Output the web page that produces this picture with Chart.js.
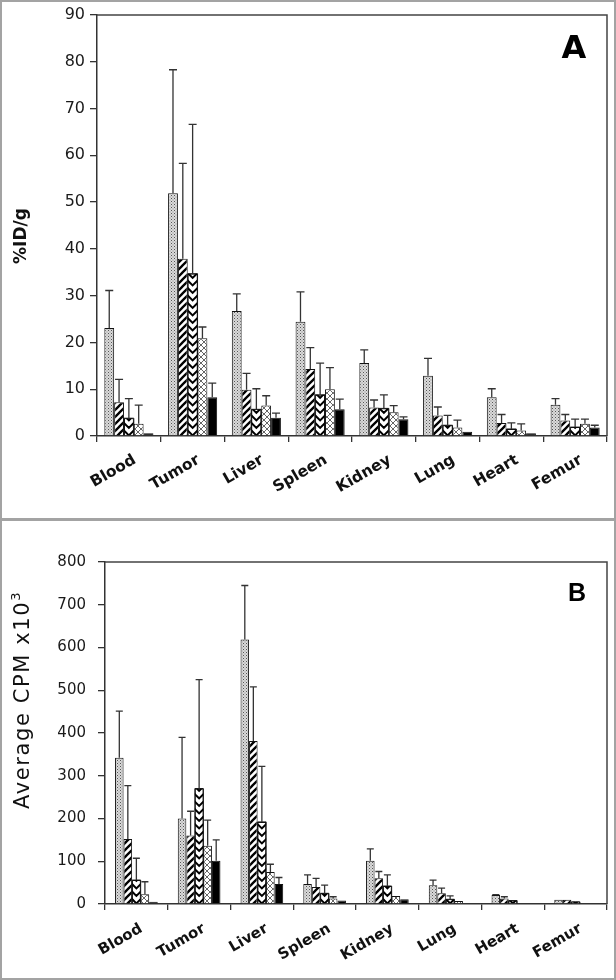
<!DOCTYPE html>
<html><head><meta charset="utf-8">
<script src="https://cdn.jsdelivr.net/npm/chart.js@4.4.0/dist/chart.umd.min.js"></script>
<style>
html,body{margin:0;padding:0;background:#fff;}
#wrap{position:relative;width:616px;height:980px;overflow:hidden;background:#fff;}
#ca{position:absolute;left:0;top:0;}
#cb{position:absolute;left:0;top:520px;}
.frame{position:absolute;left:0;top:0;width:616px;height:980px;box-sizing:border-box;border:2px solid #a3a3a3;pointer-events:none;}
.sep{position:absolute;left:0;top:518px;width:616px;height:3px;background:#a3a3a3;pointer-events:none;}
</style></head>
<body>
<div id="wrap">
<canvas id="ca" width="616" height="520"></canvas>
<canvas id="cb" width="616" height="460"></canvas>
<div class="frame"></div><div class="sep"></div>
</div>
<script>
// ---------- data ----------
const categories = ['Blood','Tumor','Liver','Spleen','Kidney','Lung','Heart','Femur'];

const yTicksA = [0,10,20,30,40,50,60,70,80,90];
const yTicksB = [0,100,200,300,400,500,600,700,800];

// Panel A (%ID/g) means
const a1 = [23.1, 51.9, 26.7, 24.4, 15.6, 12.9, 8.3, 6.7];
const a2 = [7.2, 37.9, 9.9, 14.3, 6.1, 4.4, 2.8, 3.3];
const a3 = [3.8, 34.7, 5.7, 8.8, 5.9, 2.3, 1.5, 1.9];
const a4 = [2.6, 20.9, 6.5, 10.0, 5.1, 1.8, 1.2, 2.6];
const a5 = [0.6, 8.3, 3.9, 5.7, 3.6, 0.9, 0.6, 1.8];
// Panel A error bar tops (mean + SD)
const aErr1 = [31.1, 78.3, 30.4, 30.8, 18.4, 16.6, 10.1, 8.0];
const aErr2 = [12.1, 58.3, 13.4, 18.9, 7.7, 6.2, 4.6, 4.6];
const aErr3 = [8.0, 66.6, 10.1, 15.6, 8.8, 4.4, 2.8, 3.6];
const aErr4 = [6.6, 23.3, 8.6, 14.6, 6.5, 3.4, 2.6, 3.6];
const aErr5 = [null, 11.3, 4.9, 7.9, 4.1, null, null, 2.3];

// Panel B (Average CPM x10^3) means
const b1 = [342, 200, 619, 47, 101, 44, 21, 10];
const b2 = [152, 160, 381, 40, 60, 25, 13, 10];
const b3 = [56, 270, 192, 25, 42, 11, 8, 5];
const b4 = [23, 136, 75, 13, 19, 7, 2, 2];
const b5 = [5, 101, 47, 8, 11, 2, 2, 2];
// Panel B error bar tops
const bErr1 = [451, 390, 745, 68, 129, 56, 22, null];
const bErr2 = [277, 217, 508, 60, 76, 37, 17, null];
const bErr3 = [107, 525, 322, 44, 68, 19, null, null];
const bErr4 = [52, 196, 93, 17, null, null, null, null];
const bErr5 = [null, 150, 62, null, null, null, null, null];

// ---------- patterns ----------
function tile(w, h, fn){ const c=document.createElement('canvas'); c.width=w; c.height=h; const g=c.getContext('2d'); fn(g,w,h); return g.createPattern(c,'repeat'); }
const dotFill = tile(3,3,(g)=>{ g.fillStyle='#dadada'; g.fillRect(0,0,3,3); g.fillStyle='#555'; g.fillRect(0,0,1,1); g.fillStyle='#888'; g.fillRect(1.5,1.5,1,1); });
const hatchFill = tile(7,7,(g,s)=>{ g.fillStyle='#fff'; g.fillRect(0,0,s,s); g.strokeStyle='#000'; g.lineWidth=2.3; g.beginPath(); for(const o of [-s,0,s]){ g.moveTo(o-1,s+1); g.lineTo(o+s+1,-1);} g.stroke(); });
const crossFill = tile(6,6,(g,s)=>{ g.fillStyle='#fff'; g.fillRect(0,0,s,s); g.strokeStyle='#555'; g.lineWidth=0.9; g.beginPath(); for(const o of [-s,0,s]){ g.moveTo(o-1,s+1); g.lineTo(o+s+1,-1); g.moveTo(o-1,-1); g.lineTo(o+s+1,s+1);} g.stroke(); });
const fills = [dotFill, hatchFill, '#ffffff', crossFill, '#000000'];

// ---------- plugins ----------
const chevronPlugin = {
  id:'chevron',
  afterDatasetDraw(chart, args){
    if(args.index !== 2) return;
    const ctx = chart.ctx;
    args.meta.data.forEach(bar=>{
      const {x,y,base,width} = bar.getProps(['x','y','base','width'], true);
      if(base - y < 0.5) return;
      const l = x - width/2, r = x + width/2, half = width/2;
      ctx.save();
      ctx.beginPath(); ctx.rect(l, y, width, base - y); ctx.clip();
      ctx.strokeStyle = '#000'; ctx.lineWidth = 2; ctx.lineJoin='miter';
      const p = 7.5;
      ctx.beginPath();
      for(let yy = base + p; yy > y - p - half; yy -= p){
        ctx.moveTo(l-1, yy - half - 1); ctx.lineTo(x, yy); ctx.lineTo(r+1, yy - half - 1);
      }
      ctx.stroke();
      ctx.restore();
      ctx.save();
      ctx.strokeStyle='#111'; ctx.lineWidth=1;
      ctx.beginPath(); ctx.moveTo(l, base); ctx.lineTo(l, y); ctx.lineTo(r, y); ctx.lineTo(r, base); ctx.stroke();
      ctx.restore();
    });
  }
};

const errorBarPlugin = {
  id:'errbars',
  afterDatasetsDraw(chart, args, opts){
    const ctx = chart.ctx, ys = chart.scales.y;
    const cap = opts.cap || 8;
    ctx.save();
    ctx.strokeStyle = '#333'; ctx.lineWidth = 1.3;
    chart.data.datasets.forEach((ds, i)=>{
      const meta = chart.getDatasetMeta(i);
      ds.errUpper.forEach((u, j)=>{
        if(u === null || u === undefined) return;
        const bar = meta.data[j];
        const {x, y} = bar.getProps(['x','y'], true);
        const yt = ys.getPixelForValue(u);
        ctx.beginPath();
        ctx.moveTo(x, y); ctx.lineTo(x, yt);
        ctx.moveTo(x - cap/2, yt); ctx.lineTo(x + cap/2, yt);
        ctx.stroke();
      });
    });
    ctx.restore();
  }
};

const framePlugin = {
  id:'frame',
  afterDraw(chart){
    const {left, right, top, bottom} = chart.chartArea;
    const ctx = chart.ctx;
    ctx.save(); ctx.strokeStyle = '#444'; ctx.lineWidth = 1.5;
    ctx.beginPath(); ctx.moveTo(left, top); ctx.lineTo(right, top); ctx.lineTo(right, bottom); ctx.stroke();
    ctx.restore();
  }
};

const labelPlugin = {
  id:'labels',
  afterDraw(chart, args, o){
    const ctx = chart.ctx;
    ctx.save();
    ctx.fillStyle = '#000'; ctx.font = o.letterFont; ctx.textAlign='center'; ctx.textBaseline='middle';
    ctx.fillText(o.letter, o.lx, o.ly);
    ctx.translate(o.tx, o.ty); ctx.rotate(-Math.PI/2);
    ctx.textBaseline='middle'; ctx.textAlign='left';
    if(o.spacing) ctx.letterSpacing = o.spacing;
    let total = 0;
    o.parts.forEach(p=>{ ctx.font = p.font; total += ctx.measureText(p.t).width; });
    let cx = -total/2;
    o.parts.forEach(p=>{ ctx.font = p.font; ctx.fillStyle='#111'; ctx.fillText(p.t, cx, p.dy || 0); cx += ctx.measureText(p.t).width; });
    ctx.restore();
  }
};

function makeChart(id, series, errs, ticks, cfg){
  const datasets = series.map((d,i)=>({
    data:d, errUpper:errs[i], backgroundColor:fills[i], borderColor:'#111', borderWidth:1, borderSkipped:'bottom',
    categoryPercentage: cfg.catPct, barPercentage: 1
  }));
  return new Chart(document.getElementById(id), {
    type:'bar',
    data:{ labels: categories, datasets },
    options:{
      responsive:false, animation:false,
      layout:{ padding:{ top:cfg.padTop, right:cfg.padRight, left:0, bottom:0 } },
      plugins:{
        legend:{display:false}, tooltip:{enabled:false},
        errbars:{ cap: cfg.cap },
        labels: cfg.labels
      },
      scales:{
        x:{
          afterFit(s){ s.height = cfg.xHeight; },
          grid:{ offset:true, drawOnChartArea:false, drawTicks:true, tickLength:6, color:'#333', lineWidth:1.3 },
          border:{ display:true, color:'#333', width:1.5 },
          ticks:{ autoSkip:false, minRotation:30, maxRotation:30, padding:cfg.xPad, labelOffset:cfg.xOff, color:'#111', font:{ family:'DejaVu Sans', size:cfg.xFont, weight:'bold' } }
        },
        y:{
          min: ticks[0], max: ticks[ticks.length-1],
          afterFit(s){ s.width = cfg.yWidth; },
          afterBuildTicks(s){ s.ticks = ticks.map(v=>({value:v})); },
          grid:{ drawOnChartArea:false, drawTicks:true, tickLength:7, color:'#333', lineWidth:1.3 },
          border:{ display:true, color:'#333', width:1.5 },
          ticks:{ padding:cfg.yPad, color:'#1a1a1a', font:{ family:'DejaVu Sans', size:cfg.yFont } }
        }
      }
    },
    plugins:[chevronPlugin, errorBarPlugin, framePlugin, labelPlugin]
  });
}

makeChart('ca', [a1,a2,a3,a4,a5], [aErr1,aErr2,aErr3,aErr4,aErr5], yTicksA, {
  catPct:0.77, padTop:15, padRight:9, xHeight:84, yWidth:97, cap:8, xPad:9, xOff:6, xFont:15.5, yFont:16, yPad:5,
  labels:{ letter:'A', letterFont:'bold 32px "DejaVu Sans"', lx:574, ly:50,
    tx:22, ty:236, parts:[{t:'%ID/g', font:'bold 17px "DejaVu Sans"'}] }
});

makeChart('cb', [b1,b2,b3,b4,b5], [bErr1,bErr2,bErr3,bErr4,bErr5], yTicksB, {
  catPct:0.68, padTop:42, padRight:9, xHeight:76, yWidth:105, cap:7, xPad:10, xOff:5, xFont:15, yFont:15, yPad:12,
  labels:{ letter:'B', letterFont:'bold 25px "Liberation Sans"', lx:577, ly:74,
    tx:24, ty:180, spacing:'1.6px', parts:[{t:'Average CPM x10', font:'21px "DejaVu Sans"'}, {t:'3', font:'13px "DejaVu Sans"', dy:-7}] }
});
</script>
</body></html>
